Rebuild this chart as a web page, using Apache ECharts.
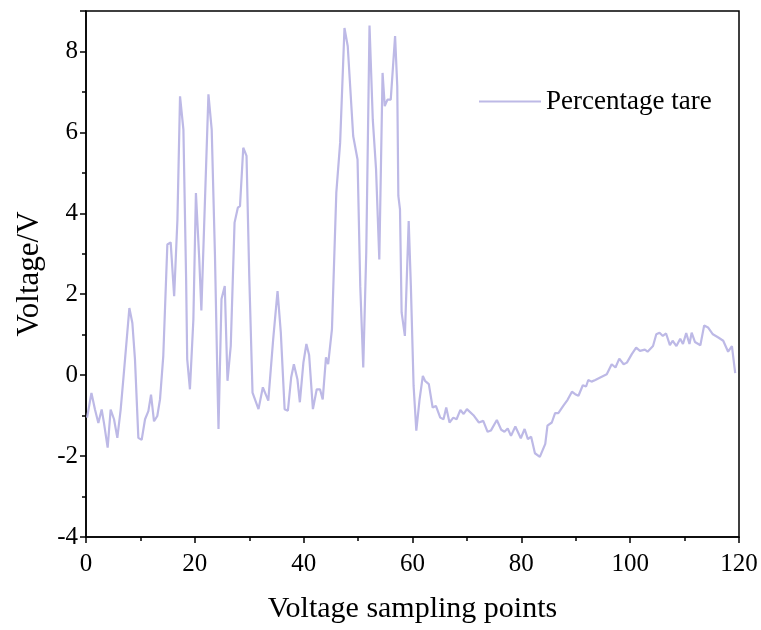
<!DOCTYPE html>
<html>
<head>
<meta charset="utf-8">
<script src="https://cdn.jsdelivr.net/npm/echarts@6/dist/echarts.min.js"></script>
<style>html,body{margin:0;padding:0;background:#fff}#c{width:761px;height:630px}</style>
</head>
<body>
<div id="c"></div>
<script>
var seriesName = 'Percentage tare';
var xTitle = 'Voltage sampling points';
var yTitle = 'Voltage/V';
var xs = [0.2,1.0,1.65,2.27,2.88,3.3,3.98,4.53,5.15,5.76,6.37,6.86,7.48,7.97,8.52,9.0,9.62,10.23,10.85,11.46,11.95,12.5,13.1,13.6,14.2,14.95,15.56,16.2,16.8,17.28,17.9,18.4,18.6,19.1,19.73,20.2,20.8,21.2,22.5,23.1,23.7,24.2,24.35,24.9,25.5,26.0,26.6,27.3,27.9,28.3,28.9,29.5,30.0,30.6,31.7,32.5,33.5,34.4,35.2,35.8,36.5,37.1,37.7,38.2,38.85,39.3,39.95,40.5,41.0,41.7,42.4,43.0,43.5,44.1,44.5,45.2,46.0,46.7,47.5,48.1,49.1,49.9,50.4,50.95,51.5,52.1,52.7,53.3,53.9,54.5,54.9,55.4,56.0,56.8,57.2,57.4,57.7,58.0,58.6,59.3,59.7,60.2,60.7,61.3,61.9,62.3,63.0,63.7,64.3,65.1,65.7,66.2,66.8,67.5,68.1,68.8,69.4,70.0,71.2,72.2,73.0,73.8,74.4,75.5,76.3,76.9,77.5,78.1,78.9,79.2,79.9,80.6,81.2,81.8,82.5,83.4,84.4,84.8,85.6,86.2,86.8,87.7,88.5,89.3,89.9,90.5,91.3,91.9,92.3,92.9,93.6,94.5,95.7,96.6,97.3,98.0,98.8,99.4,100.3,101.1,101.8,102.7,103.2,104.2,104.8,105.4,106.0,106.6,107.3,107.8,108.5,109.2,109.7,110.3,110.9,111.3,111.9,112.9,113.6,114.3,115.2,116.2,117.1,118.0,118.7,119.3];
var ys = [-1.05,-0.44,-0.85,-1.18,-0.85,-1.18,-1.79,-0.85,-1.09,-1.55,-0.85,-0.1,0.88,1.66,1.29,0.39,-1.55,-1.6,-1.09,-0.89,-0.48,-1.14,-1.01,-0.6,0.47,3.23,3.28,1.95,3.84,6.89,6.07,2.36,0.39,-0.35,1.37,4.5,2.9,1.6,6.94,6.07,2.95,-0.43,-1.33,1.88,2.2,-0.14,0.72,3.77,4.14,4.18,5.62,5.42,2.45,-0.43,-0.84,-0.3,-0.63,0.89,2.08,1.05,-0.84,-0.88,-0.06,0.27,-0.1,-0.67,0.31,0.77,0.5,-0.84,-0.35,-0.35,-0.6,0.44,0.27,1.14,4.51,5.74,8.58,8.13,5.91,5.33,2.2,0.19,3.03,8.64,6.32,5.09,2.86,7.47,6.65,6.81,6.81,8.38,7.14,4.43,4.1,1.55,0.97,3.81,2.2,-0.26,-1.37,-0.6,-0.02,-0.14,-0.22,-0.8,-0.76,-1.05,-1.09,-0.8,-1.17,-1.05,-1.09,-0.86,-0.96,-0.84,-0.99,-1.17,-1.13,-1.4,-1.37,-1.11,-1.35,-1.4,-1.32,-1.5,-1.27,-1.23,-1.56,-1.33,-1.58,-1.52,-1.93,-2.02,-1.7,-1.25,-1.17,-0.94,-0.94,-0.76,-0.61,-0.41,-0.47,-0.51,-0.25,-0.28,-0.12,-0.16,-0.12,-0.06,0.02,0.27,0.19,0.41,0.27,0.31,0.52,0.68,0.6,0.63,0.58,0.72,1.01,1.05,0.97,1.03,0.74,0.85,0.72,0.9,0.77,1.04,0.77,1.05,0.82,0.74,1.23,1.18,1.01,0.93,0.85,0.58,0.72,0.05];

var data = xs.map(function (x, i) { return [x, ys[i]]; });
var font = '"Liberation Serif", "Times New Roman", serif';
var chart = echarts.init(document.getElementById('c'), null, {renderer: 'canvas'});
chart.setOption({
  animation: false,
  backgroundColor: '#fff',
  grid: {left: 86, right: 22, top: 11, bottom: 93, show: true, borderColor: '#000', borderWidth: 1.5, backgroundColor: 'transparent'},
  legend: {
    left: 474, top: 83, icon: 'rect', itemWidth: 62, itemHeight: 2, itemGap: 5,
    textStyle: {fontFamily: font, fontSize: 27, color: '#000'},
    data: [seriesName]
  },
  xAxis: {
    type: 'value', min: 0, max: 120, interval: 20,
    name: xTitle, nameLocation: 'middle', nameGap: 57,
    nameTextStyle: {fontFamily: font, fontSize: 30, color: '#000'},
    axisLine: {show: true, onZero: false, lineStyle: {color: '#000', width: 1.5}},
    axisTick: {show: true, length: 6, lineStyle: {color: '#000', width: 1.5}},
    minorTick: {show: true, splitNumber: 2, length: 4, lineStyle: {color: '#000', width: 1.5}},
    axisLabel: {fontFamily: font, fontSize: 25, color: '#000', margin: 15},
    splitLine: {show: false}
  },
  yAxis: {
    type: 'value', min: -4, max: 9, interval: 2,
    name: yTitle, nameLocation: 'middle', nameGap: 41,
    nameTextStyle: {fontFamily: font, fontSize: 31, color: '#000'},
    axisLine: {show: true, lineStyle: {color: '#000', width: 1.5}},
    axisTick: {show: true, length: 6, lineStyle: {color: '#000', width: 1.5}},
    minorTick: {show: true, splitNumber: 2, length: 4, lineStyle: {color: '#000', width: 1.5}},
    axisLabel: {fontFamily: font, fontSize: 25, color: '#000', margin: 8, showMaxLabel: false},
    splitLine: {show: false}
  },
  series: [{
    name: seriesName, type: 'line', data: data, showSymbol: false, symbol: 'none',
    lineStyle: {color: '#bdb9e6', width: 2.2}, itemStyle: {color: '#bdb9e6'}
  }]
});
</script>
</body>
</html>
